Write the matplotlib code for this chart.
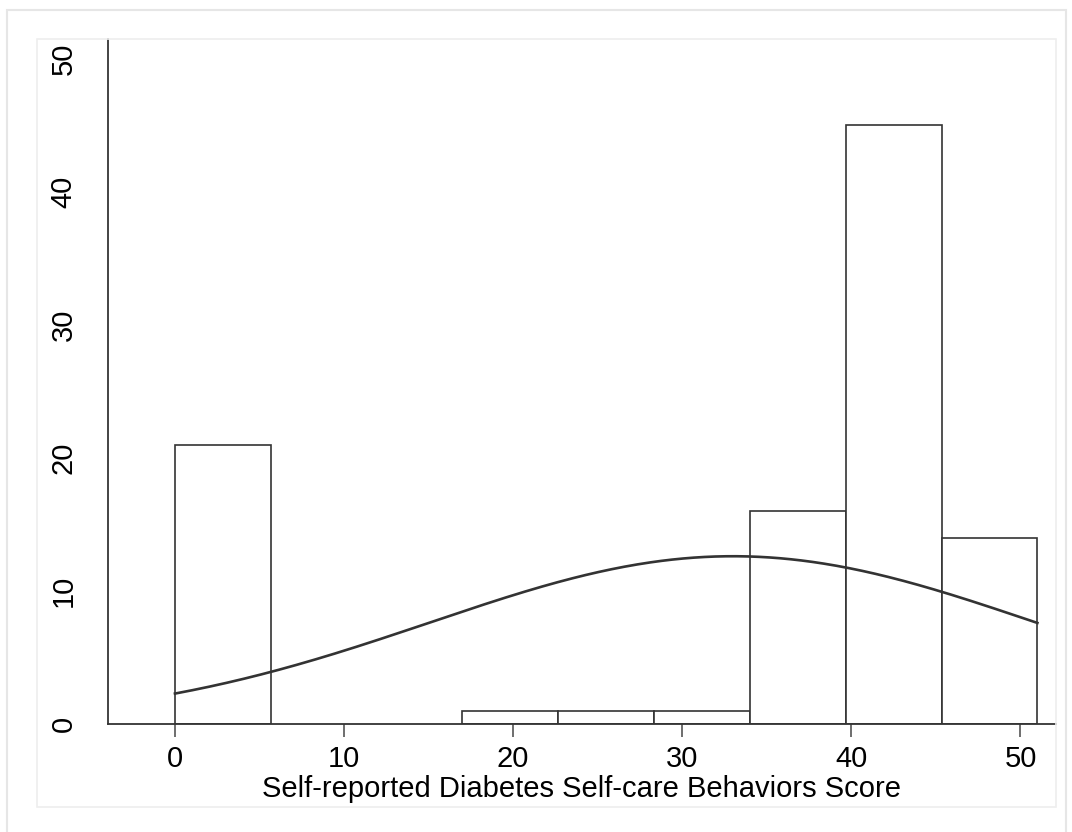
import numpy as np
import matplotlib
matplotlib.use("Agg")
import matplotlib.pyplot as plt
from matplotlib.patches import Rectangle

plt.rcParams['font.family'] = ['Liberation Sans', 'DejaVu Sans']

# Histogram of self-care behaviour scores (percent of respondents per bin)
bin_edges = [0, 5.667, 11.333, 17, 22.667, 28.333, 34, 39.667, 45.333, 51]
percents = [21, 0, 0, 1, 1, 1, 16, 45, 14]

# Normal density overlay parameters
score_mean = 33.0
score_sd = 17.9

x_ticks = [0, 10, 20, 30, 40, 50]
y_ticks = [0, 10, 20, 30, 40, 50]
x_label = "Self-reported Diabetes Self-care Behaviors Score"

W, H = 1072, 832
fig = plt.figure(figsize=(W / 100, H / 100), dpi=100)
fig.patch.set_facecolor("white")

def px_rect(x0, y0, x1, y1, **kw):
    # rectangle given in pixel coords measured from the top-left corner
    return Rectangle((x0 / W, 1 - y1 / H), (x1 - x0) / W, (y1 - y0) / H,
                     transform=fig.transFigure, fill=False, **kw)

fig.add_artist(px_rect(7, 10, 1066, 840, edgecolor="#e6e6e6", linewidth=1.5))
fig.add_artist(px_rect(37, 39, 1056, 807, edgecolor="#eeeeee", linewidth=1.2))

ax_l, ax_r, ax_t, ax_b = 108, 1056, 39, 724.3
ax = fig.add_axes([ax_l / W, 1 - ax_b / H, (ax_r - ax_l) / W, (ax_b - ax_t) / H])
ax.set_facecolor("white")

widths = np.diff(bin_edges)
for left, w, h in zip(bin_edges[:-1], widths, percents):
    if h > 0:
        ax.bar(left, h, width=w, align="edge", facecolor="white",
               edgecolor="#333333", linewidth=1.2, zorder=2)

bw = widths[0]
xs = np.linspace(bin_edges[0], bin_edges[-1], 400)
dens = 100 * bw * np.exp(-0.5 * ((xs - score_mean) / score_sd) ** 2) / (score_sd * np.sqrt(2 * np.pi))
ax.plot(xs, dens, color="#333333", linewidth=1.9, zorder=3)

ax.set_xlim(-3.96, 52.1)
ax.set_ylim(0, 51.5)

for s in ["top", "right"]:
    ax.spines[s].set_visible(False)
ax.spines["left"].set_color("#111111")
ax.spines["bottom"].set_color("#333333")
ax.spines["left"].set_linewidth(1.1)
ax.spines["bottom"].set_linewidth(1.3)

ax.set_xticks(x_ticks)
ax.set_xticklabels([str(t) for t in x_ticks], fontsize=21)
ax.tick_params(axis="x", length=9, width=1.2, color="#555555", pad=6)

ax.set_yticks(y_ticks)
ax.set_yticklabels([str(t) for t in y_ticks], fontsize=21, rotation=90, va="center")
ax.tick_params(axis="y", length=0, pad=22)

ax.set_xlabel(x_label, fontsize=21, labelpad=1)

fig.savefig("out.png", dpi=100, facecolor="white")
